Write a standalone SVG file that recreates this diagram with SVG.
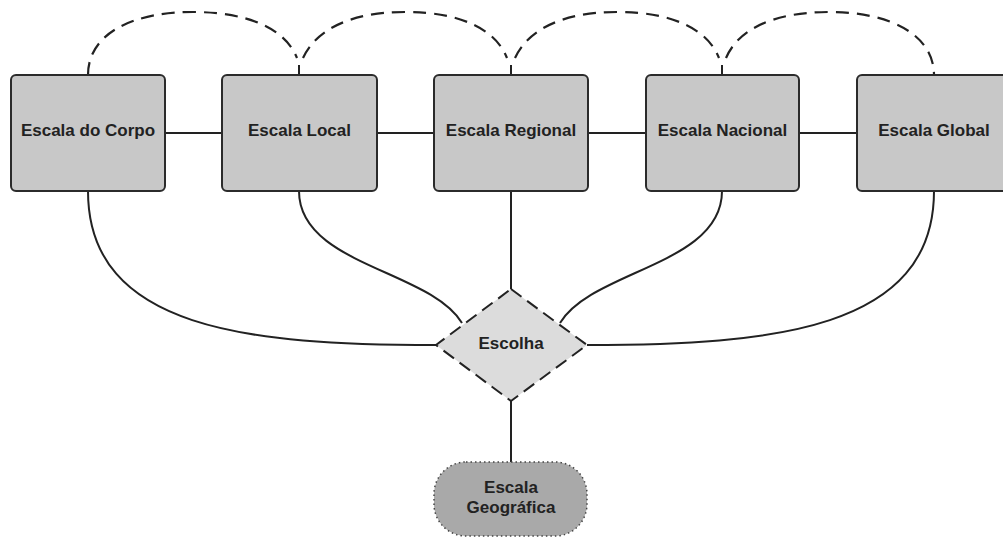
<svg xmlns="http://www.w3.org/2000/svg" width="1003" height="538" viewBox="0 0 1003 538">
<style>
.box{fill:#c8c8c8;stroke:#2b2b2b;stroke-width:2}
.lbl{font-family:"Liberation Sans",Arial,sans-serif;font-weight:bold;font-size:17px;fill:#222;text-anchor:middle}
.ln{fill:none;stroke:#222;stroke-width:2}
.dash{fill:none;stroke:#222;stroke-width:2.2;stroke-dasharray:13 8}
</style>
<rect width="1003" height="538" fill="#fff"/>
<g id="connectors">
<path class="dash" d="M88,75 C88,35 130,12 193,12 C250,12 286,30 297,58"/>
<path class="dash" d="M303,58 C316,30 350,12 405,12 C462,12 496,30 507,58"/>
<path class="dash" d="M515,58 C528,30 562,12 617,12 C674,12 708,30 719,58"/>
<path class="dash" d="M726,58 C738,30 772,12 830,12 C890,12 934,35 934,75"/>
<path class="ln" d="M299,65 L299,75 M511,65 L511,75 M722,65 L722,75"/>
<path class="ln" d="M165,133 L222,133 M377,133 L434,133 M588,133 L646,133 M799,133 L857,133"/>
<path class="ln" d="M511,191 L511,289 M511,401 L511,462"/>
<path class="ln" d="M88,191 C88,330 250,345 436,345"/>
<path class="ln" d="M299,191 C299,265 430,270 462,323"/>
<path class="ln" d="M722,191 C722,265 592,270 560,323"/>
<path class="ln" d="M934,191 C934,330 772,345 587,345"/>
</g>
<g id="n1"><rect class="box" x="11" y="75" width="154" height="116" rx="5"/><text class="lbl" x="88" y="136">Escala do Corpo</text></g>
<g id="n2"><rect class="box" x="222" y="75" width="155" height="116" rx="5"/><text class="lbl" x="299.5" y="136">Escala Local</text></g>
<g id="n3"><rect class="box" x="434" y="75" width="154" height="116" rx="5"/><text class="lbl" x="511" y="136">Escala Regional</text></g>
<g id="n4"><rect class="box" x="646" y="75" width="153" height="116" rx="5"/><text class="lbl" x="722.5" y="136">Escala Nacional</text></g>
<g id="n5"><rect class="box" x="857" y="75" width="154" height="116" rx="5"/><text class="lbl" x="934" y="136">Escala Global</text></g>
<g id="escolha"><path d="M511,289 L587,345 L511,401 L436,345 Z" fill="#dcdcdc" stroke="#222" stroke-width="2" stroke-dasharray="13 7" stroke-linejoin="round"/><text class="lbl" x="511" y="349">Escolha</text></g>
<g id="geografica"><rect x="434" y="462" width="153" height="74" rx="32" fill="#a9a9a9" stroke="#444" stroke-width="1.5" stroke-dasharray="1.5 3"/><text class="lbl" x="511" y="493">Escala</text><text class="lbl" x="511" y="513">Geográfica</text></g>
</svg>
